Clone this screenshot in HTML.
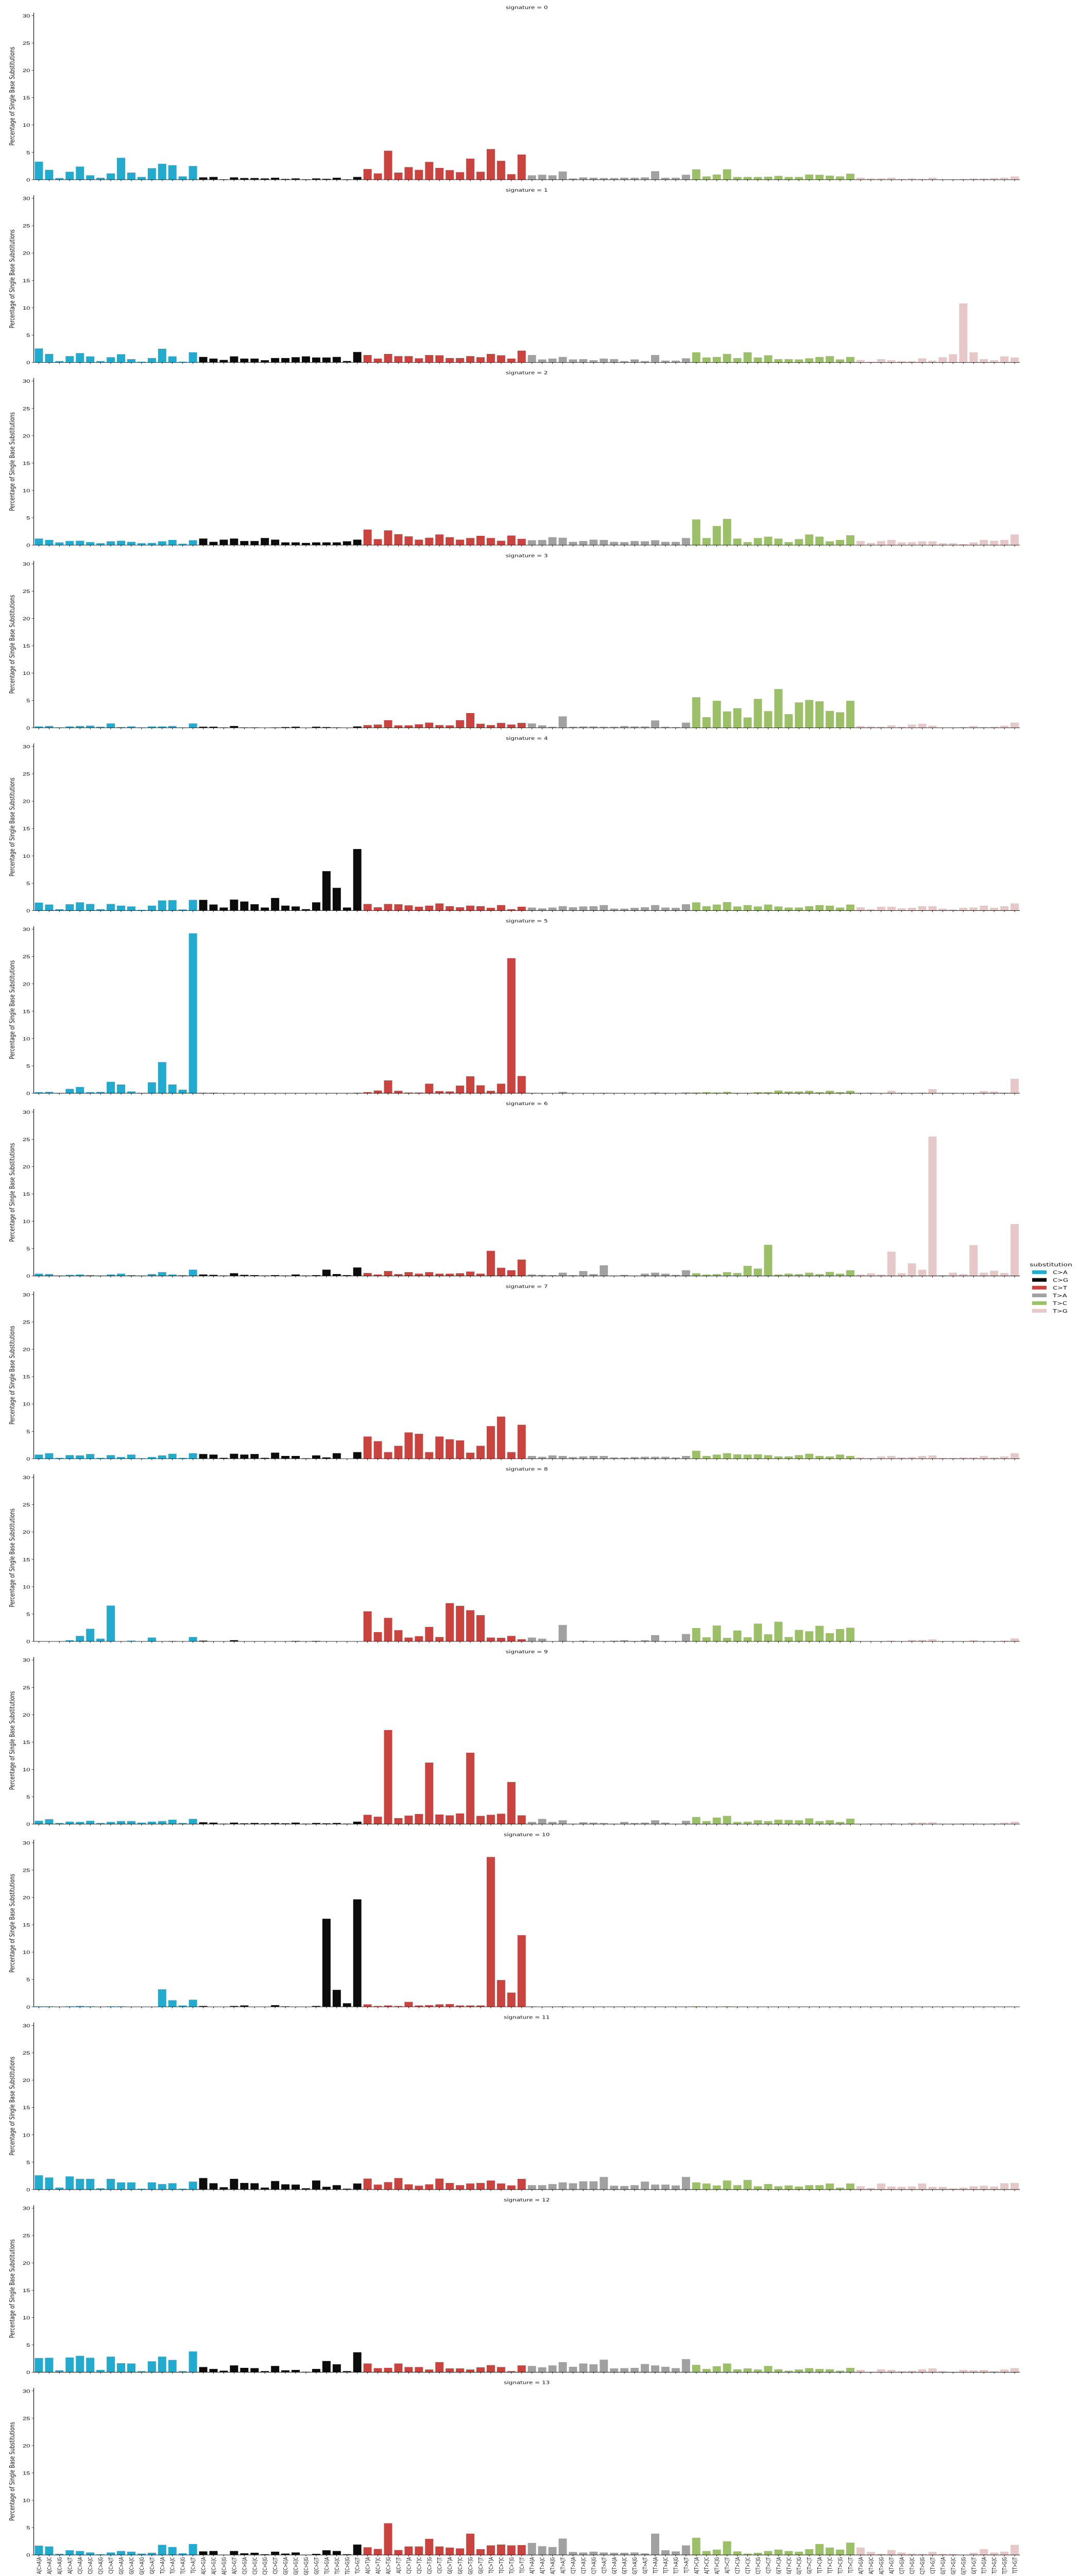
<!DOCTYPE html>
<html><head><meta charset="utf-8"><title>Mutational signatures</title>
<style>
html,body{margin:0;padding:0;background:#fff;overflow:hidden;}
svg{display:block;width:100vw;height:100vh;}
text{font-family:"DejaVu Sans","Liberation Sans",sans-serif;}
</style></head>
<body>
<svg id="chart" viewBox="0 0 2093 7000" preserveAspectRatio="none" xmlns="http://www.w3.org/2000/svg">
<g id="panels"></g>
<g id="legend">
  <text x="1999" y="3441" font-size="14" fill="#111">substitution</text>
  <g><rect x="2004" y="3452" width="28" height="10" fill="#23AACF"/><text x="2044" y="3462" font-size="13" fill="#111">C&gt;A</text></g>
  <g><rect x="2004" y="3473" width="28" height="10" fill="#0c0c0c"/><text x="2044" y="3483" font-size="13" fill="#111">C&gt;G</text></g>
  <g><rect x="2004" y="3494" width="28" height="10" fill="#CB433E"/><text x="2044" y="3504" font-size="13" fill="#111">C&gt;T</text></g>
  <g><rect x="2004" y="3515" width="28" height="10" fill="#A1A1A1"/><text x="2044" y="3525" font-size="13" fill="#111">T&gt;A</text></g>
  <g><rect x="2004" y="3536" width="28" height="10" fill="#9CC068"/><text x="2044" y="3546" font-size="13" fill="#111">T&gt;C</text></g>
  <g><rect x="2004" y="3557" width="28" height="10" fill="#E6C8C8"/><text x="2044" y="3567" font-size="13" fill="#111">T&gt;G</text></g>
</g>
</svg>
<script>
// ---- data ----
const substitutions = ["C>A","C>G","C>T","T>A","T>C","T>G"];
const flankBases = ["A","C","G","T"];
const yTicks = [0,5,10,15,20,25,30];
const sig0 = [3.3,1.8,0.3,1.45,2.4,0.8,0.35,1.15,4.0,1.3,0.5,2.1,2.9,2.65,0.6,2.5,
0.42,0.5,0.07,0.42,0.3,0.3,0.23,0.36,0.13,0.23,0.07,0.23,0.15,0.36,0.07,0.5,
1.95,1.15,5.3,1.3,2.3,1.8,3.25,2.15,1.75,1.37,3.85,1.45,5.6,3.45,1.0,4.6,
0.8,0.9,0.8,1.5,0.23,0.42,0.36,0.3,0.3,0.36,0.36,0.42,1.55,0.36,0.36,0.9,
1.9,0.6,0.95,1.9,0.5,0.5,0.5,0.55,0.7,0.5,0.5,0.95,0.9,0.75,0.6,1.1,
0.36,0.23,0.23,0.36,0.13,0.23,0.13,0.36,0.07,0.07,0.13,0.23,0.23,0.3,0.36,0.6];
const sig1 = [2.55,1.55,0.25,1.15,1.7,1.1,0.25,0.95,1.5,0.6,0.13,0.8,2.5,1.1,0.13,1.85,
1.0,0.7,0.45,1.1,0.7,0.7,0.4,0.8,0.8,0.95,1.1,0.9,0.9,1.0,0.25,1.9,
1.35,0.7,1.55,1.15,1.15,0.75,1.35,1.3,0.8,0.8,1.15,0.95,1.55,1.3,0.7,2.15,
1.35,0.55,0.7,1.0,0.55,0.6,0.4,0.7,0.6,0.25,0.55,0.25,1.35,0.33,0.33,0.75,
1.85,0.9,1.0,1.55,0.8,1.85,0.9,1.3,0.6,0.6,0.55,0.75,1.0,1.15,0.55,1.0,
0.45,0.13,0.6,0.4,0.25,0.25,0.75,0.33,0.95,1.5,10.8,1.85,0.6,0.4,1.1,0.9];
const sig2 = [1.2,0.95,0.5,0.75,0.8,0.55,0.35,0.7,0.8,0.6,0.35,0.4,0.7,0.95,0.25,0.9,
1.2,0.6,1.0,1.2,0.75,0.75,1.3,1.0,0.5,0.5,0.4,0.5,0.5,0.5,0.7,1.0,
2.85,1.1,2.7,2.0,1.6,1.0,1.35,1.95,1.45,1.0,1.3,1.7,1.3,0.8,1.75,1.15,
0.9,0.95,1.45,1.35,0.6,0.75,1.0,0.95,0.6,0.55,0.75,0.7,0.9,0.6,0.6,1.3,
4.7,1.3,3.5,4.8,1.2,0.55,1.3,1.55,1.2,0.55,1.1,1.95,1.55,0.7,0.95,1.8,
0.75,0.4,0.75,0.95,0.5,0.55,0.7,0.7,0.35,0.35,0.2,0.5,0.95,0.8,0.95,1.95];
const sig3 = [0.25,0.33,0.07,0.25,0.33,0.4,0.2,0.8,0.13,0.25,0.07,0.25,0.25,0.33,0.07,0.8,
0.2,0.2,0.07,0.33,0.07,0.07,0,0.07,0.13,0.2,0,0.2,0.13,0.07,0,0.25,
0.5,0.6,1.4,0.45,0.45,0.65,0.95,0.5,0.45,1.4,2.7,0.75,0.5,0.9,0.6,0.9,
0.8,0.45,0.2,2.1,0.2,0.25,0.25,0.2,0.2,0.33,0.25,0.25,1.35,0.2,0.13,0.95,
5.6,1.95,4.95,3.0,3.6,1.9,5.3,3.05,7.1,2.5,4.65,5.1,4.85,3.1,2.85,4.95,
0.33,0.25,0.2,0.45,0.2,0.6,0.75,0.4,0,0.07,0.13,0.33,0.13,0.2,0.4,0.95];
const sig4 = [1.45,1.1,0.25,1.15,1.5,1.2,0.25,1.2,0.9,0.75,0.13,0.9,1.85,1.9,0.2,1.95,
1.95,1.1,0.55,2.0,1.65,1.15,0.55,2.3,0.9,0.75,0.25,1.5,7.2,4.15,0.55,11.25,
1.2,0.6,1.2,1.15,0.95,0.7,0.9,1.3,0.8,0.6,0.9,0.8,0.5,1.0,0.25,0.7,
0.55,0.4,0.55,0.8,0.6,0.75,0.8,1.0,0.35,0.35,0.5,0.6,1.0,0.55,0.5,1.15,
1.5,0.8,1.1,1.55,0.75,1.0,0.75,1.1,0.75,0.55,0.55,0.8,1.0,0.9,0.55,1.1,
0.6,0.25,0.7,0.7,0.4,0.5,0.8,0.8,0.35,0.2,0.5,0.55,0.9,0.5,0.8,1.3];
const sig5 = [0.2,0.25,0.07,0.8,1.15,0.2,0.25,2.1,1.6,0.33,0.07,2.0,5.7,1.6,0.65,29.25,
0.07,0.07,0,0,0,0,0,0,0,0,0,0,0,0,0,0.07,
0.2,0.5,2.35,0.45,0.13,0.13,1.75,0.4,0.33,1.4,3.1,1.45,0.45,1.75,24.7,3.15,
0.07,0,0,0.25,0,0,0,0.07,0,0,0,0,0.13,0.07,0,0.13,
0.13,0.2,0.13,0.25,0.07,0.07,0.2,0.2,0.5,0.33,0.33,0.45,0.2,0.45,0.2,0.45,
0.07,0.13,0,0.45,0.13,0.07,0.13,0.75,0.07,0.07,0,0.07,0.4,0.33,0.13,2.65];
const sig6 = [0.42,0.35,0.08,0.2,0.27,0.15,0.08,0.27,0.42,0.15,0.08,0.35,0.7,0.27,0.15,1.15,
0.27,0.2,0.08,0.5,0.2,0.15,0.08,0.15,0.08,0.27,0.08,0.15,1.15,0.35,0.15,1.55,
0.55,0.27,0.9,0.35,0.7,0.42,0.7,0.42,0.42,0.5,0.8,0.42,4.6,1.5,1.05,3.0,
0.27,0.2,0.15,0.6,0.15,0.9,0.35,1.95,0.08,0.2,0.08,0.42,0.6,0.42,0.2,1.05,
0.5,0.27,0.35,0.7,0.55,1.85,1.35,5.7,0.27,0.42,0.35,0.6,0.35,0.75,0.42,1.05,
0.27,0.5,0.27,4.45,0.5,2.3,1.15,25.5,0.15,0.6,0.35,5.65,0.6,0.95,0.55,9.5];
const sig7 = [0.75,1.0,0.15,0.65,0.6,0.85,0.15,0.65,0.3,0.75,0.08,0.3,0.6,0.9,0.15,1.0,
0.85,0.75,0.15,0.9,0.75,0.85,0.15,1.1,0.5,0.5,0.08,0.6,0.23,1.0,0,1.2,
4.05,3.2,1.2,2.35,4.8,4.55,1.2,4.05,3.55,3.35,1.1,2.35,5.95,7.7,1.2,6.2,
0.5,0.35,0.6,0.5,0.3,0.42,0.5,0.5,0.23,0.23,0.3,0.35,0.35,0.35,0.23,0.5,
1.45,0.5,0.75,1.0,0.8,0.75,0.8,0.65,0.42,0.42,0.65,0.9,0.5,0.42,0.75,0.5,
0.23,0.15,0.42,0.5,0.23,0.3,0.5,0.6,0.15,0.15,0.23,0.23,0.5,0.23,0.42,1.0];
const sig8 = [0,0,0,0.22,1.0,2.3,0.5,6.55,0,0.13,0,0.7,0,0.08,0,0.8,
0.13,0,0,0.22,0,0,0,0,0,0.08,0,0.08,0,0,0,0,
5.5,1.7,4.3,2.05,0.7,0.95,2.65,0.8,7.0,6.5,5.7,4.8,0.7,0.65,1.0,0.4,
0.7,0.5,0,3.0,0,0.13,0,0,0.13,0.22,0.08,0.22,1.15,0.08,0.08,1.35,
2.45,0.75,2.9,0.65,2.0,0.75,3.25,1.3,3.6,0.8,2.1,1.85,2.85,1.5,2.25,2.5,
0,0,0,0.13,0,0.27,0.27,0.4,0,0,0,0.22,0,0,0.13,0.55];
const sig9 = [0.6,0.9,0.2,0.45,0.4,0.6,0.2,0.4,0.55,0.55,0.27,0.45,0.55,0.8,0.2,0.95,
0.33,0.27,0.08,0.27,0.13,0.2,0.13,0.2,0.13,0.27,0.08,0.2,0.13,0.2,0.08,0.45,
1.7,1.35,17.2,1.1,1.55,1.85,11.25,1.75,1.6,1.95,13.05,1.5,1.7,1.9,7.7,1.6,
0.4,0.95,0.4,0.7,0.08,0.33,0.27,0.2,0.08,0.4,0.2,0.27,0.7,0.27,0.08,0.6,
1.3,0.55,1.2,1.5,0.4,0.45,0.7,0.55,0.8,0.75,0.7,1.05,0.55,0.7,0.4,1.0,
0.08,0.13,0.13,0.2,0.08,0.27,0.27,0.33,0.08,0.08,0.13,0.13,0.08,0.13,0.27,0.45];
const sig10 = [0.08,0.08,0,0.08,0.15,0.08,0,0.08,0.08,0,0,0,3.2,1.2,0.25,1.3,
0.15,0,0,0.15,0.25,0,0,0.3,0.08,0,0,0.15,16.1,3.1,0.65,19.65,
0.45,0.15,0.25,0.15,0.9,0.25,0.3,0.45,0.5,0.25,0.25,0.25,27.4,4.9,2.6,13.1,
0.08,0,0,0.08,0,0,0,0,0,0,0,0,0,0,0,0,
0.08,0,0,0.08,0,0,0,0,0,0,0,0,0,0,0,0,
0,0,0,0,0,0,0,0,0,0,0,0,0,0,0,0];
const sig11 = [2.6,2.2,0.35,2.4,1.95,1.95,0.23,1.95,1.3,1.3,0.15,1.3,1.0,1.15,0.15,1.45,
2.1,1.15,0.42,1.95,1.2,1.15,0.35,1.55,0.95,0.9,0.23,1.65,0.5,0.8,0.15,1.1,
2.0,0.9,1.35,2.1,0.95,0.7,0.95,2.0,1.2,0.8,1.1,1.2,1.65,1.1,0.75,1.95,
0.8,0.8,1.0,1.3,1.15,1.5,1.5,2.3,0.7,0.65,0.8,1.45,0.9,0.9,0.75,2.3,
1.3,1.1,0.75,1.65,0.8,1.75,0.6,1.0,0.6,0.75,0.55,0.8,0.8,1.1,0.35,1.1,
0.6,0.3,1.1,0.55,0.5,0.55,1.1,0.5,0.5,0.23,0.35,0.6,0.7,0.55,1.15,1.2];
const sig12 = [2.6,2.65,0.35,2.7,3.0,2.65,0.42,2.85,1.65,1.6,0.2,2.0,2.85,2.25,0.2,3.8,
0.95,0.6,0.28,1.25,0.8,0.75,0.2,1.15,0.35,0.42,0.08,0.6,2.05,1.45,0.2,3.65,
1.6,0.75,0.8,1.6,0.95,0.95,0.5,1.85,0.7,0.7,0.5,0.9,1.3,0.95,0.2,1.25,
1.15,0.9,1.25,1.85,1.0,1.6,1.45,2.3,0.7,0.75,0.8,1.5,1.25,1.0,0.75,2.4,
1.35,0.6,1.1,1.6,0.55,0.7,0.5,1.15,0.55,0.28,0.5,0.75,0.6,0.55,0.28,0.8,
0.42,0.08,0.55,0.42,0.2,0.28,0.55,0.7,0.2,0.08,0.42,0.35,0.42,0.2,0.5,0.75];
const sig13 = [1.7,1.55,0.2,0.85,0.72,0.45,0.13,0.45,0.72,0.6,0.25,0.4,1.85,1.45,0.3,2.0,
0.65,0.72,0.05,0.72,0.3,0.4,0.13,0.6,0.25,0.45,0.05,0.2,0.85,0.72,0.13,1.9,
1.4,1.1,5.8,0.9,1.55,1.55,2.95,1.55,1.35,1.2,3.9,1.05,1.75,1.9,1.75,1.8,
2.2,1.6,1.45,3.0,0.55,0.45,0.6,0.45,0.4,0.4,0.45,0.3,3.9,0.85,0.65,1.75,
3.15,0.72,0.98,2.5,0.65,0.25,0.4,0.72,0.98,0.72,0.6,1.05,2.0,1.35,0.98,2.25,
1.35,0.55,0.2,0.9,0.45,0.25,0.2,0.55,0.2,0.2,0.05,0.4,1.05,0.45,0.6,1.85];
const signatures = [sig0,sig1,sig2,sig3,sig4,sig5,sig6,sig7,sig8,sig9,sig10,sig11,sig12,sig13];
const subColors = ["#23AACF","#0c0c0c","#CB433E","#A1A1A1","#9CC068","#E6C8C8"];

// ---- layout ----
const NS = "http://www.w3.org/2000/svg";
const axLeft = 65.5, axRight = 1980;
const step = (axRight - axLeft) / 96;
const barW = step * 0.8;
const unit = 14.86;
const zero0 = 488.3, panelStep = 496.5;
const yMax = 30.55;
function xScale(i){ return axLeft + (i + 0.5) * step; }
function yScale(v, zero){ return zero - v * unit; }

const categories = [];
substitutions.forEach(function(s){
  flankBases.forEach(function(l){
    flankBases.forEach(function(r){ categories.push(l + "[" + s + "]" + r); });
  });
});

function mk(tag, attrs, parent){
  const e = document.createElementNS(NS, tag);
  for (const k in attrs) e.setAttribute(k, attrs[k]);
  parent.appendChild(e);
  return e;
}

const root = document.getElementById("panels");
signatures.forEach(function(vals, k){
  const zero = zero0 + panelStep * k;
  const top = yScale(yMax, zero);
  const g = mk("g", {}, root);
  
  

  const title = mk("text", {x: (axLeft + axRight) / 2, y: top - 10, "font-size": 12, "text-anchor": "middle", fill: "#111"}, g);
  title.textContent = "signature = " + k;
  
  

  const ylab = mk("text", {x: 0, y: 0, "font-size": 13.5, "text-anchor": "middle", fill: "#111",
    transform: "translate(28," + ((top + zero) / 2) + ") rotate(-90)"}, g);
  ylab.textContent = "Percentage of Single Base Substitutions";
  
  

  vals.forEach(function(v, i){
    const y = yScale(v, zero);
    const r = mk("rect", {x: xScale(i) - barW / 2, y: y, width: barW, height: Math.max(0, zero - y), fill: subColors[Math.floor(i / 16)]}, g);
    
    
  });

  yTicks.forEach(function(t){
    const y = yScale(t, zero);
    const tl = mk("line", {x1: axLeft - 4, x2: axLeft, y1: y, y2: y, stroke: "#111", "stroke-width": 1}, g);
    
    
    const tt = mk("text", {x: axLeft - 7, y: y + 5, "font-size": 13, "text-anchor": "end", fill: "#111", style: "font-family:'Liberation Sans',sans-serif"}, g);
    tt.textContent = t;
    
    
  });

  categories.forEach(function(c, i){
    const x = xScale(i);
    const xt = mk("line", {x1: x, x2: x, y1: zero, y2: zero + 4, stroke: "#111", "stroke-width": 1}, g);
    
    
    if (k === signatures.length - 1) {
      const lt = mk("text", {x: 0, y: 0, "font-size": 10.5, "text-anchor": "end", fill: "#111",
        transform: "translate(" + (x + 4) + "," + (zero + 6) + ") rotate(-90)"}, g);
      lt.textContent = c;
      
      
    }
  });

  const ls = mk("line", {x1: axLeft, x2: axLeft, y1: top, y2: zero, stroke: "#111", "stroke-width": 1.2}, g);
  
  
  const bs = mk("line", {x1: axLeft, x2: axRight, y1: zero, y2: zero, stroke: "#111", "stroke-width": 1.3}, g);
  
  
});
</script>
</body></html>
